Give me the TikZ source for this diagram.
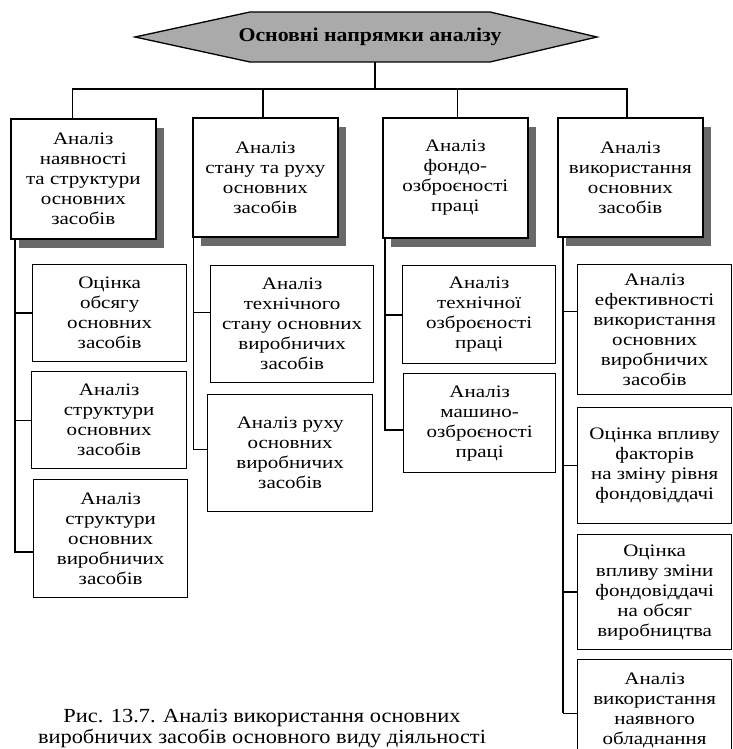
\documentclass[tikz,border=0pt]{standalone}
\usepackage{fontspec}
\setmainfont{Liberation Serif}[FakeStretch=1.12]
\newfontfamily\boxfont{Liberation Serif}[FakeStretch=1.2]
\usetikzlibrary{shadows}
\definecolor{hexgray}{RGB}{170,170,170}
\definecolor{shadowgray}{RGB}{105,105,105}
\tikzset{
  boxtext/.style={font=\boxfont\fontsize{17.5}{20}\selectfont},
  topbox/.style={draw, line width=1.6pt, fill=white, anchor=north west, align=center,
    inner sep=0pt, boxtext,
    drop shadow={shadow xshift=8pt, shadow yshift=-9pt, fill=shadowgray, opacity=1}},
  subbox/.style={draw, line width=1.3pt, fill=white, anchor=north west, align=center,
    inner sep=0pt, boxtext},
  conthick/.style={line width=2pt},
  conthin/.style={line width=0.9pt},
  hexshape/.style={draw, line width=1.3pt, fill=hexgray, line join=miter},
}
\begin{document}
\begin{tikzpicture}[x=1pt,y=-1pt]
\useasboundingbox (0,0) rectangle (732,749);
\fill[white] (0,0) rectangle (732,749);
\clip (0,0) rectangle (732,749);

% title hexagon
\draw[hexshape] (135,37) -- (250,12) -- (490,12) -- (597,37) -- (490,62) -- (250,62) -- cycle;
\node[font=\fontsize{19.5}{20}\selectfont\bfseries, inner sep=0pt] (title) at (370,37) {Основні напрямки аналізу};
\coordinate (hexb) at (375,62);

% top-level boxes
\node[topbox, minimum width=145pt, minimum height=120pt] (b1) at (10,118) {Аналіз\\наявності\\та структури\\основних\\засобів};
\node[topbox, minimum width=145pt, minimum height=119pt] (b2) at (192,117) {Аналіз\\стану та руху\\основних\\засобів};
\node[topbox, minimum width=145pt, minimum height=120pt] (b3) at (382,117) {Аналіз\\фондо-\\озброєності\\праці};
\node[topbox, minimum width=145pt, minimum height=119pt] (b4) at (557,117) {Аналіз\\використання\\основних\\засобів};

% sub boxes, column 1
\node[subbox, minimum width=154pt, minimum height=97pt] (s11) at (32,264) {Оцінка\\обсягу\\основних\\засобів};
\node[subbox, minimum width=155pt, minimum height=97pt] (s12) at (31,371) {Аналіз\\структури\\основних\\засобів};
\node[subbox, minimum width=154pt, minimum height=118pt] (s13) at (33,479) {Аналіз\\структури\\основних\\виробничих\\засобів};

% column 2
\node[subbox, minimum width=163pt, minimum height=117pt] (s21) at (210,265) {Аналіз\\технічного\\стану основних\\виробничих\\засобів};
\node[subbox, minimum width=165pt, minimum height=117pt] (s22) at (207,394) {Аналіз руху\\основних\\виробничих\\засобів};

% column 3
\node[subbox, minimum width=153pt, minimum height=98pt] (s31) at (402,265) {Аналіз\\технічної\\озброєності\\праці};
\node[subbox, minimum width=152pt, minimum height=99pt] (s32) at (403,373) {Аналіз\\машино-\\озброєності\\праці};

% column 4
\node[subbox, minimum width=154pt, minimum height=130pt] (s41) at (577,264) {Аналіз\\ефективності\\використання\\основних\\виробничих\\засобів};
\node[subbox, minimum width=154pt, minimum height=116pt] (s42) at (577,407) {Оцінка впливу\\факторів\\на зміну рівня\\фондовіддачі};
\node[subbox, minimum width=154pt, minimum height=115pt] (s43) at (577,534) {Оцінка\\впливу зміни\\фондовіддачі\\на обсяг\\виробництва};
\node[subbox, minimum width=154pt, minimum height=102pt] (s44) at (577,659) {Аналіз\\використання\\наявного\\обладнання};

% bus
\coordinate (busL) at (72,89);
\coordinate (bus2) at (263,89);
\coordinate (bus3) at (457,89);
\coordinate (busR) at (627,89);
\draw[conthick] (hexb) -- (hexb |- busL);
\draw[conthin] (busL) -- (busL |- b1.north);
\draw[conthick] (bus2) -- (bus2 |- b2.north);
\draw[conthin] (bus3) -- (bus3 |- b3.north);
\draw[conthick, line join=miter] (busL) -- (busR) -- (busR |- b4.north);

% column 1 connectors
\coordinate (c1) at (15,0);
\coordinate (k13) at (15,552);
\draw[conthick, line join=miter] (c1 |- b1.south) -- (k13) -- (k13 -| s13.west);
\draw[conthick] (c1 |- s11.west) -- (s11.west);
\draw[conthin] (c1 |- s12.west) -- (s12.west);

% column 2 connectors
\coordinate (c2) at (193,0);
\coordinate (k21) at (193,312);
\coordinate (k22) at (193,449);
\draw[conthin, line join=miter] (c2 |- b2.south) -- (k22) -- (k22 -| s22.west);
\draw[conthin] (k21) -- (k21 -| s21.west);

% column 3 connectors
\coordinate (c3) at (385,0);
\coordinate (k32) at (385,430);
\draw[conthick, line join=miter] (c3 |- b3.south) -- (k32) -- (k32 -| s32.west);
\draw[conthick] (c3 |- s31.west) -- (s31.west);

% column 4 connectors
\coordinate (c4) at (563,0);
\coordinate (k41) at (563,311);
\coordinate (k44) at (563,713);
\draw[conthick] (c4 |- b4.south) -- (k44);
\draw[conthin] (k41) -- (k41 -| s41.west);
\draw[conthin] (c4 |- s42.west) -- (s42.west);
\draw[conthick] (c4 |- s43.west) -- (s43.west);
\draw[conthin] (k44) -- (k44 -| s44.west);

% caption
\node[align=center, inner sep=0pt, font=\fontsize{20}{21}\selectfont] (cap) at (262,729)
  {Рис. 13.7. Аналіз використання основних\\виробничих засобів основного виду діяльності};
\end{tikzpicture}
\end{document}
